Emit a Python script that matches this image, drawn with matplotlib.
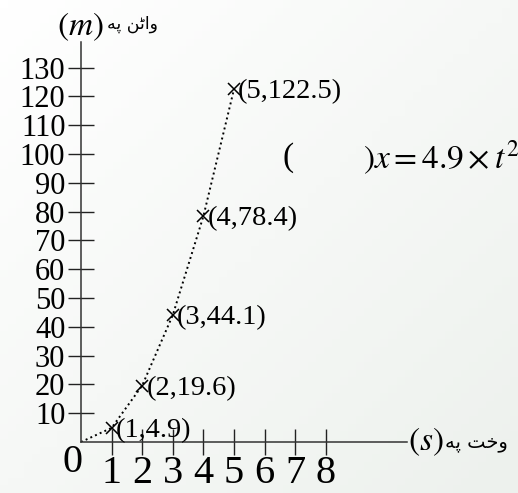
import numpy as np
import matplotlib.pyplot as plt
from matplotlib.colors import LinearSegmentedColormap

# data: distance x = 4.9 t^2
t = [0, 1, 2, 3, 4, 5]
dist = [0, 4.9, 19.6, 44.1, 78.4, 122.5]
point_labels = ["(1,4.9)", "(2,19.6)", "(3,44.1)", "(4,78.4)", "(5,122.5)"]
x_ticks = [1, 2, 3, 4, 5, 6, 7, 8]
y_ticks = [10, 20, 30, 40, 50, 60, 70, 80, 90, 100, 110, 120, 130]

# pashto labels, pre-shaped in visual order ("واټن په", "وخت په")
dist_word = "\uFEEA\uFB58 \uFEE6\uFB68\uFE8D\uFEED"
time_word = "\uFEEA\uFB58 \uFE96\uFEA7\uFEED"

plt.rcParams['font.family'] = ['Liberation Serif', 'DejaVu Serif']
plt.rcParams['mathtext.fontset'] = 'stix'

W, H = 518, 493
fig = plt.figure(figsize=(W / 100, H / 100), dpi=100)

# very soft background gradient
bg = fig.add_axes([0, 0, 1, 1], zorder=-10)
gx, gy = np.meshgrid(np.linspace(0, 1, 64), np.linspace(0, 1, 64))
soft = LinearSegmentedColormap.from_list('soft', ['#ffffff', '#edf1ed'])
bg.imshow(gx + gy, cmap=soft, vmin=0, vmax=2, aspect='auto',
          extent=[0, 1, 0, 1], origin='upper')
bg.axis('off')


def fx(px):
    return px / W


def fy(py):
    return 1 - py / H


# axes: origin at pixel (81, 442), x axis to 407, y axis up to 42
ax = fig.add_axes([fx(81), fy(442), (407 - 81) / W, (442 - 42) / H])
ax.patch.set_alpha(0)
ax.set_xlim(0, (407 - 81) / 30.6)
ax.set_ylim(0, (442 - 42) / 2.88)

for s in ['top', 'right']:
    ax.spines[s].set_visible(False)
for s in ['left', 'bottom']:
    ax.spines[s].set_color('#333333')
    ax.spines[s].set_linewidth(1.1)

ax.set_xticks(x_ticks)
ax.set_yticks(y_ticks)
ax.tick_params(axis='both', direction='inout', length=18.5, width=1.0, color='#222222')
ax.tick_params(axis='x', labelsize=29, pad=0)
ax.tick_params(axis='y', labelsize=22, pad=2)

ax.plot(t, dist, linestyle=':', color='black', linewidth=1.4)
ax.plot(t[1:], dist[1:], linestyle='none', marker='x', color='black',
        markersize=9, markeredgewidth=1.1)
for xi, yi, lab in zip(t[1:], dist[1:], point_labels):
    ax.annotate(lab, (xi, yi), xytext=(3, -2), textcoords='offset points',
                fontsize=20.5, va='center', ha='left')

# origin label
fig.text(fx(72), fy(462), "0", fontsize=29, ha='center', va='center')

# axis titles
fig.text(fx(80), fy(27), r"$(m)$", fontsize=24, ha='center', va='center')
fig.text(fx(107), fy(24), dist_word, fontsize=12.5, ha='left', va='center',
         family=['DejaVu Sans'])
fig.text(fx(426), fy(442), r"$(s)$", fontsize=24, ha='center', va='center')
fig.text(fx(445), fy(442), time_word, fontsize=14, ha='left', va='center',
         family=['DejaVu Sans'])

# formula
fig.text(fx(283), fy(158), "(", fontsize=24, ha='left', va='center')
fig.text(fx(363), fy(158), r"$)x = 4.9\times t^2$", fontsize=24, ha='left', va='center')

fig.savefig('out.png', dpi=100, facecolor='white')
